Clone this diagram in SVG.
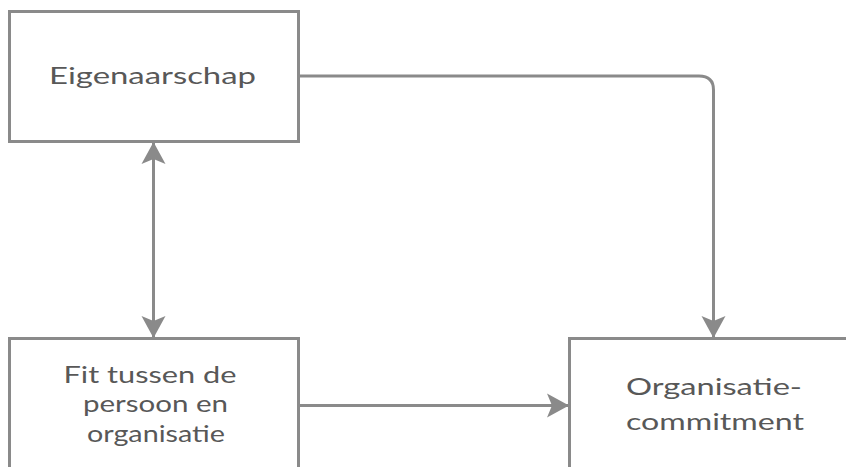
<svg xmlns="http://www.w3.org/2000/svg" width="846" height="467" viewBox="0 0 846 467">
  <style>
    .box { fill: #ffffff; stroke: #8a8a8a; stroke-width: 3; }
    .label { font-family: Lato, "Liberation Sans", sans-serif; font-size: 23px; fill: #585858; text-anchor: middle; }
    .edge { fill: none; stroke: #8a8a8a; stroke-width: 3; }
  </style>
  <defs>
    <marker id="arrow" viewBox="0 0 22 26" refX="21" refY="13" markerWidth="22" markerHeight="26" markerUnits="userSpaceOnUse" orient="auto-start-reverse">
      <path d="M0,1 L22,13 L0,25 L5,13 Z" fill="#8a8a8a"/>
    </marker>
  </defs>
  <rect width="846" height="467" fill="#ffffff"/>

  <g id="eigenaarschap">
    <rect class="box" x="9.5" y="11.5" width="289" height="130"/>
    <text class="label" x="152.5" y="84" textLength="207" lengthAdjust="spacingAndGlyphs">Eigenaarschap</text>
  </g>

  <g id="fit">
    <rect class="box" x="9.5" y="338.5" width="289" height="140"/>
    <text class="label" x="150" y="383" textLength="173" lengthAdjust="spacingAndGlyphs">Fit tussen de</text>
    <text class="label" x="155.5" y="412" textLength="145" lengthAdjust="spacingAndGlyphs">persoon en</text>
    <text class="label" x="156" y="442" textLength="138" lengthAdjust="spacingAndGlyphs">organisatie</text>
  </g>

  <g id="commitment">
    <rect class="box" x="569.5" y="338.5" width="289" height="140"/>
    <text class="label" x="714" y="395" textLength="176" lengthAdjust="spacingAndGlyphs">Organisatie-</text>
    <text class="label" x="715" y="430" textLength="178" lengthAdjust="spacingAndGlyphs">commitment</text>
  </g>

  <g id="connectors">
    <path class="edge" d="M153.5,143 L153.5,337" marker-start="url(#arrow)" marker-end="url(#arrow)"/>
    <path class="edge" d="M299,76 L699,76 Q713.5,76 713.5,90 L713.5,337" marker-end="url(#arrow)"/>
    <path class="edge" d="M299,405.5 L568,405.5" marker-end="url(#arrow)"/>
  </g>
</svg>
